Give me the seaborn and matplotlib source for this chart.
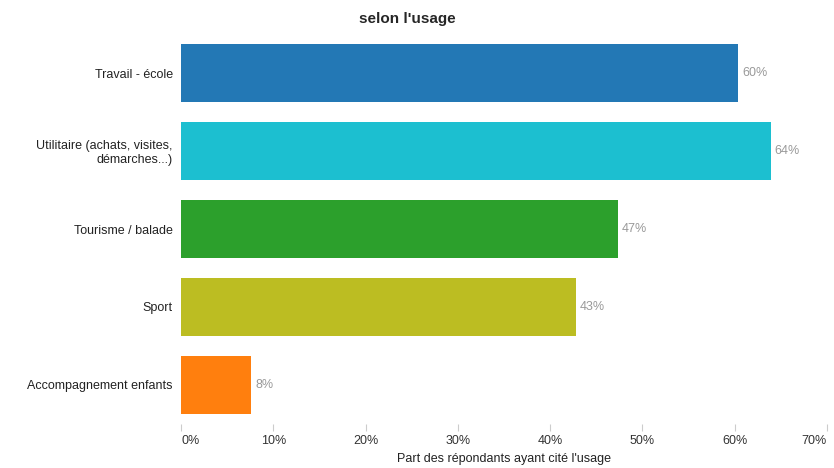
import seaborn as sns
import pandas as pd
import numpy as np
from matplotlib import pyplot as plt

categories = ['Travail - école', 'Utilitaire (achats, visites,\ndémarches...)',
              'Tourisme / balade', 'Sport', 'Accompagnement enfants']
values = [60.4, 63.9, 47.3, 42.8, 7.6]
labels = ['60%', '64%', '47%', '43%', '8%']
colors = ['#2378b5', '#1cbfd0', '#2ca02c', '#bcbd22', '#ff7f0e']
xticks = [0, 10, 20, 30, 40, 50, 60, 70]

df = pd.DataFrame({'usage': categories, 'part': values})

sns.set_style('white')
plt.rcParams['font.family'] = ['Liberation Sans', 'DejaVu Sans']

fig = plt.figure(figsize=(8.34, 4.68), dpi=100)
ax = fig.add_axes([181/834, 1 - 424/468, (827-181)/834, (424-34)/468])

sns.barplot(data=df, x='part', y='usage', hue='usage', palette=colors,
            legend=False, width=0.74, saturation=1, linewidth=0, ax=ax)

for i, (v, lab) in enumerate(zip(values, labels)):
    ax.annotate(lab, (v, i), xytext=(3, 0), textcoords='offset points',
                va='center', ha='left', fontsize=9, color='#999999')

ax.set_xlim(0, 70)
ax.set_ylim(4.5, -0.5)
ax.set_xticks(xticks)
ax.set_xticklabels([f'{t}%' for t in xticks], fontsize=9, color='#333333')
tl = ax.get_xticklabels()
tl[0].set_ha('left')
tl[-1].set_ha('right')
ax.tick_params(axis='x', length=5, color='#cccccc', pad=3, bottom=True)
ax.tick_params(axis='y', length=0, pad=6, labelsize=9, labelcolor='#222222')
for t in ax.get_yticklabels():
    t.set_ha('right')
    t.set_multialignment('right')
for s in ax.spines.values():
    s.set_visible(False)

ax.set_ylabel('')
ax.set_xlabel("Part des répondants ayant cité l'usage", fontsize=9,
              color='#222222', labelpad=4)
fig.suptitle("selon l'usage", x=0.488, y=0.975, fontsize=11, fontweight='bold')

plt.savefig('out.png', dpi=100)
